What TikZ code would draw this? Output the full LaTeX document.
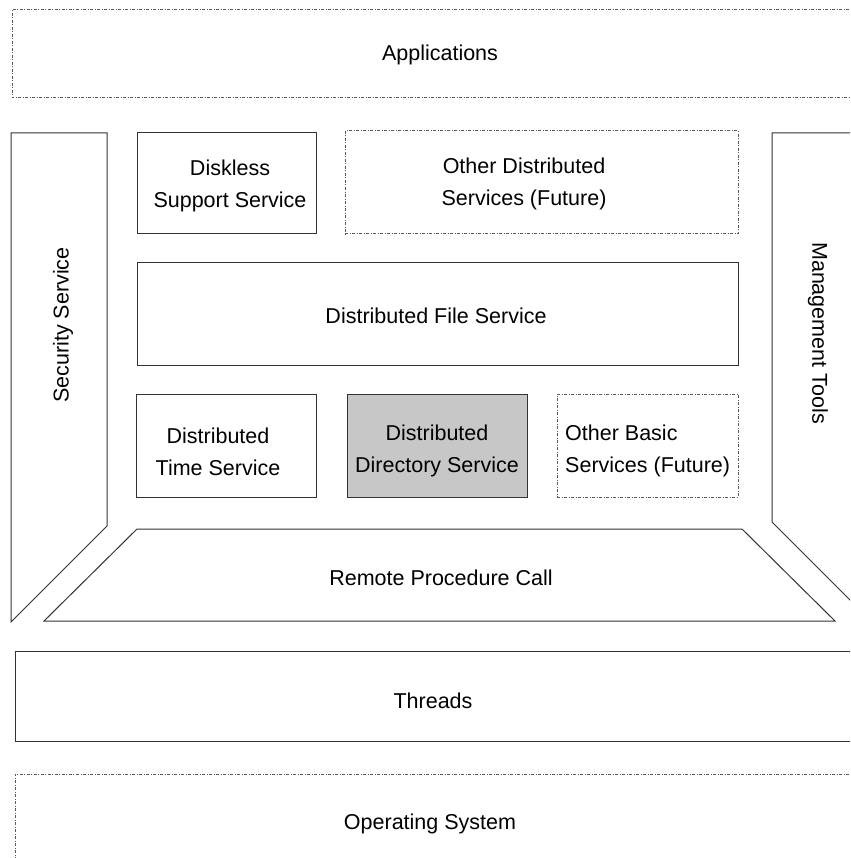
\documentclass[tikz,border=0pt]{standalone}
\usepackage{fontspec}
\setmainfont{Liberation Sans}
\begin{document}
\begin{tikzpicture}[x=1pt,y=-1pt,
  solidline/.style={draw=black!80, line width=1pt},
  dashline/.style={draw=black!65, line width=1pt, dash pattern=on 3pt off 1.5pt on 1pt off 1.5pt},
  lbl/.style={font=\fontsize{21.5}{32}\selectfont, align=center, inner sep=0pt},
  box/.style={solidline, inner sep=0pt},
  dbox/.style={dashline, inner sep=0pt}]
\useasboundingbox (0,0) rectangle (850,858);
\clip (0,0) rectangle (850,858);
\fill[white] (0,0) rectangle (850,858);

% Applications (dashed, open to the right)
\draw[dashline] (870,10) -- (12,10) -- (12,98) -- (870,98);
\node[lbl] (apps) at (440,55) {Applications};

% Security Service
\draw[solidline] (11,133) -- (107,133) -- (107,526) -- (11,622) -- cycle;
\node[lbl, rotate=90] (sec) at (63,325) {Security Service};

% Management Tools
\draw[solidline] (870,133) -- (772,133) -- (772,522) -- (870,620);
\node[lbl, rotate=-90] (mgmt) at (818,333) {Management Tools};

% Upper services
\node[box, minimum width=179pt, minimum height=101pt] (diskless) at (226.5,183.5) {};
\node[lbl] (disklesstxt) at (230,186) {Diskless\\Support Service};
\node[dbox, minimum width=393pt, minimum height=103pt] (otherdist) at (541.5,182.5) {};
\node[lbl] (otherdisttxt) at (524,184) {Other Distributed\\Services (Future)};
\node[box, minimum width=601pt, minimum height=102pt] (dfs) at (437.5,314) {};
\node[lbl] (dfstxt) at (436,316) {Distributed File Service};

% Basic services
\node[box, minimum width=180pt, minimum height=103pt] (dts) at (226,445.5) {};
\node[lbl] (dtstxt) at (218,452) {Distributed\\Time Service};
\node[box, fill=black!22, minimum width=180pt, minimum height=103pt] (dds) at (437,445.5) {};
\node[lbl] (ddstxt) at (437,451) {Distributed\\Directory Service};
\node[dbox, minimum width=181pt, minimum height=103pt] (otherbasic) at (647.5,445.5) {};
\node[lbl, align=left, anchor=west] (otherbasictxt) at (565,451) {Other Basic\\Services (Future)};

% Remote Procedure Call
\draw[solidline] (137,529) -- (742,529) -- (835,621) -- (44,621) -- cycle;
\node[lbl] (rpc) at (441,578) {Remote Procedure Call};

% Threads
\draw[solidline] (870,651) -- (15,651) -- (15,741) -- (870,741);
\node[lbl] (threads) at (433,701) {Threads};

% Operating System
\draw[dashline] (870,774) -- (15,774) -- (15,870);
\node[lbl] (os) at (430,824) {Operating System};
\end{tikzpicture}
\end{document}
